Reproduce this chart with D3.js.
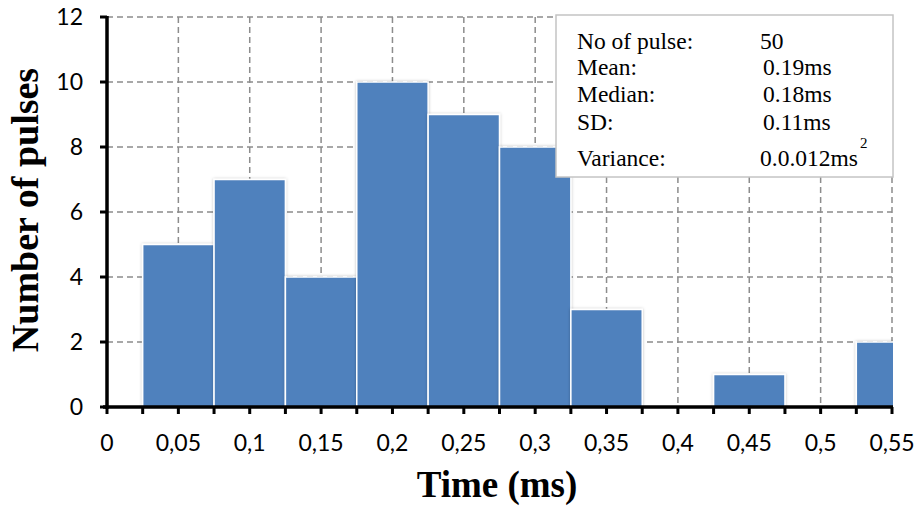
<!DOCTYPE html>
<html>
<head>
<meta charset="utf-8">
<script src="https://cdn.jsdelivr.net/npm/d3@7"></script>
<style>
  body { margin: 0; background: #fff; }
  svg { display: block; }
</style>
</head>
<body>
<svg></svg>
<script>
const width = 916;
const height = 506;

// histogram data
const binStarts = [0.025, 0.075, 0.125, 0.175, 0.225, 0.275, 0.325, 0.375, 0.425, 0.475, 0.525];
const counts = [5, 7, 4, 10, 9, 8, 3, 0, 1, 0, 2];
const binWidth = 0.05;

const xTicks = [0, 0.05, 0.1, 0.15, 0.2, 0.25, 0.3, 0.35, 0.4, 0.45, 0.5, 0.55];
const xTickLabels = ["0", "0,05", "0,1", "0,15", "0,2", "0,25", "0,3", "0,35", "0,4", "0,45", "0,5", "0,55"];
const yTicks = [0, 2, 4, 6, 8, 10, 12];

const statLabels = ["No of pulse:", "Mean:", "Median:", "SD:", "Variance:"];
const statValues = ["50", "0.19ms", "0.18ms", "0.11ms", "0.0.012ms"];

const svg = d3.select('svg')
    .attr('width', width).attr('height', height);

const x = d3.scaleLinear().domain([0, 0.55]).range([107, 892]);
const y = d3.scaleLinear().domain([0, 12]).range([407, 17]);

const defs = svg.append('defs');
defs.append('clipPath').attr('id', 'plotclip')
    .append('rect')
    .attr('x', x(0)).attr('y', 0)
    .attr('width', x(0.55) - x(0) + 1).attr('height', y(0));
const shadow = defs.append('filter').attr('id', 'shadow')
    .attr('x', '-10%').attr('y', '-10%').attr('width', '120%').attr('height', '120%');
shadow.append('feDropShadow')
    .attr('dx', 0).attr('dy', 0).attr('stdDeviation', 1.5)
    .attr('flood-color', '#000').attr('flood-opacity', 0.25);

// grid
const grid = svg.append('g')
    .attr('stroke', '#8c8c8c')
    .attr('stroke-width', 1.5)
    .attr('stroke-dasharray', '6,4');
grid.selectAll('.vgrid')
    .data(xTicks.slice(1))
    .enter().append('line')
    .attr('x1', d => x(d)).attr('x2', d => x(d))
    .attr('y1', y(12)).attr('y2', y(0));
grid.selectAll('.hgrid')
    .data(yTicks.slice(1))
    .enter().append('line')
    .attr('x1', x(0)).attr('x2', x(0.55))
    .attr('y1', d => y(d)).attr('y2', d => y(d));

// bars
svg.append('g')
    .attr('clip-path', 'url(#plotclip)')
    .selectAll('rect')
    .data(binStarts.map((s, i) => ({ start: s, count: counts[i] })).filter(d => d.count > 0))
    .enter().append('rect')
    .attr('x', d => x(d.start))
    .attr('y', d => y(d.count))
    .attr('width', d => x(d.start + binWidth) - x(d.start))
    .attr('height', d => y(0) - y(d.count))
    .attr('fill', '#4f81bd')
    .attr('stroke', '#fff')
    .attr('stroke-width', 1.5)
    .attr('filter', 'url(#shadow)');

// axes
const minorTicks = d3.range(0, 23).map(i => i * 0.025);
svg.append('g')
    .selectAll('line')
    .data(minorTicks)
    .enter().append('line')
    .attr('x1', d => x(d)).attr('x2', d => x(d))
    .attr('y1', y(0)).attr('y2', y(0) + 7)
    .attr('stroke', '#000').attr('stroke-width', 3);
svg.append('g')
    .selectAll('line')
    .data(yTicks)
    .enter().append('line')
    .attr('x1', x(0) - 7).attr('x2', x(0))
    .attr('y1', d => y(d)).attr('y2', d => y(d))
    .attr('stroke', '#000').attr('stroke-width', 3);
svg.append('line')
    .attr('x1', x(0) - 4).attr('x2', x(0.55) + 1)
    .attr('y1', y(0)).attr('y2', y(0))
    .attr('stroke', '#000').attr('stroke-width', 3.5);
svg.append('line')
    .attr('x1', x(0)).attr('x2', x(0))
    .attr('y1', y(12) - 1).attr('y2', y(0) + 2)
    .attr('stroke', '#000').attr('stroke-width', 3.5);

// tick labels
svg.append('g')
    .selectAll('text')
    .data(xTicks)
    .enter().append('text')
    .attr('x', d => x(d))
    .attr('y', 451)
    .attr('text-anchor', 'middle')
    .style('font-family', 'Lato, sans-serif')
    .style('font-size', '23px')
    .text((d, i) => xTickLabels[i]);
svg.append('g')
    .selectAll('text')
    .data(yTicks)
    .enter().append('text')
    .attr('x', 83)
    .attr('y', d => y(d) + 8)
    .attr('text-anchor', 'end')
    .style('font-family', 'Lato, sans-serif')
    .style('font-size', '23px')
    .text(d => d);

// axis titles
svg.append('text')
    .attr('x', 497).attr('y', 497)
    .attr('text-anchor', 'middle')
    .style('font-family', '"Liberation Serif", serif')
    .style('font-weight', 'bold')
    .style('font-size', '37px')
    .text('Time (ms)');
svg.append('text')
    .attr('transform', 'translate(38,210) rotate(-90)')
    .attr('text-anchor', 'middle')
    .style('font-family', '"Liberation Serif", serif')
    .style('font-weight', 'bold')
    .style('font-size', '38px')
    .text('Number of pulses');

// stats box
svg.append('rect')
    .attr('x', 556).attr('y', 15)
    .attr('width', 337).attr('height', 162)
    .attr('fill', '#fff')
    .attr('stroke', '#c4c4c4')
    .attr('stroke-width', 1.5);
const statBase = [49, 75, 102, 130, 166];
const statX = [760, 763, 763, 763, 760];
const stats = svg.append('g')
    .style('font-family', '"Liberation Serif", serif')
    .style('font-size', '23.5px');
stats.selectAll('.lab')
    .data(statLabels)
    .enter().append('text')
    .attr('x', 577)
    .attr('y', (d, i) => statBase[i])
    .text(d => d);
const vals = stats.selectAll('.val')
    .data(statValues)
    .enter().append('text')
    .attr('x', (d, i) => statX[i])
    .attr('y', (d, i) => statBase[i]);
vals.append('tspan').text(d => d);
vals.filter((d, i) => i === statValues.length - 1)
    .append('tspan')
    .attr('dx', 2).attr('dy', -18)
    .style('font-size', '15px')
    .text('2');
</script>
</body>
</html>
